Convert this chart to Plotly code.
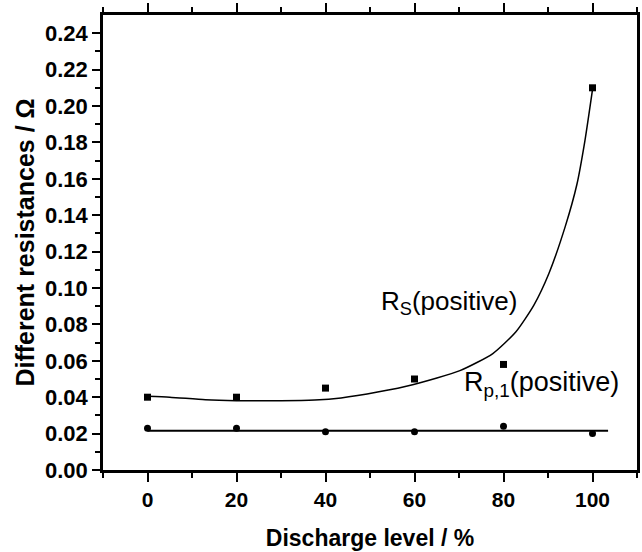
import plotly.graph_objects as go

# Measured data
discharge = [0, 20, 40, 60, 80, 100]
rs_pos = [0.040, 0.040, 0.045, 0.050, 0.058, 0.210]
rp1_pos = [0.023, 0.023, 0.021, 0.021, 0.024, 0.020]

# Fitted curve for Rs
rs_fit_x = [0, 5, 13, 20, 30, 37.6, 43.5, 51.7, 59.8, 70.2, 77.6, 82.8, 86.8, 90.2, 93.9, 96.5, 98.3, 100]
rs_fit_y = [0.0405, 0.0400, 0.0386, 0.0381, 0.0380, 0.0384, 0.0396, 0.0428, 0.0470, 0.0546, 0.0640,
            0.0760, 0.0905, 0.1080, 0.1340, 0.1570, 0.1810, 0.2090]

# Fitted line for Rp,1
rp1_fit_x = [0, 103.5]
rp1_fit_y = [0.0216, 0.0216]

x_ticks = [0, 20, 40, 60, 80, 100]
y_ticks = [0.00, 0.02, 0.04, 0.06, 0.08, 0.10, 0.12, 0.14, 0.16, 0.18, 0.20, 0.22, 0.24]

FONT = "Liberation Sans, Arial, sans-serif"

fig = go.Figure()
fig.add_trace(go.Scatter(x=rs_fit_x, y=rs_fit_y, mode="lines",
                         line=dict(color="black", width=1.5, shape="spline", smoothing=0.6),
                         showlegend=False, hoverinfo="skip"))
fig.add_trace(go.Scatter(x=rp1_fit_x, y=rp1_fit_y, mode="lines", line=dict(color="black", width=2),
                         showlegend=False, hoverinfo="skip"))
fig.add_trace(go.Scatter(x=discharge, y=rs_pos, mode="markers",
                         marker=dict(symbol="square", size=7, color="black"), showlegend=False))
fig.add_trace(go.Scatter(x=discharge, y=rp1_pos, mode="markers",
                         marker=dict(symbol="circle", size=7, color="black"), showlegend=False))

fig.add_annotation(x=52.1, y=0.0922, xref="x", yref="y", text="R<sub>S</sub>(positive)", showarrow=False,
                   xanchor="left", yanchor="middle", font=dict(family=FONT, size=26, color="black"))
fig.add_annotation(x=70.6, y=0.0475, xref="x", yref="y", text="R<sub>p,1</sub>(positive)", showarrow=False,
                   xanchor="left", yanchor="middle", font=dict(family=FONT, size=27, color="black"))

fig.update_xaxes(range=[-10, 110], tickvals=x_ticks, ticktext=["<b>%d</b>" % v for v in x_ticks],
                 ticks="outside", ticklen=9, tickwidth=2, tickcolor="black",
                 minor=dict(tickvals=[-10, 10, 30, 50, 70, 90, 110], ticks="outside", ticklen=5, tickwidth=2, tickcolor="black"),
                 showline=True, linewidth=2.5, linecolor="black", mirror="ticks", showgrid=False, zeroline=False,
                 tickfont=dict(family=FONT, size=21, color="black"),
                 title=dict(text="<b>Discharge level / %</b>", font=dict(family=FONT, size=23, color="black"), standoff=20))
fig.update_yaxes(range=[0, 0.25], tickvals=y_ticks, ticktext=["<b>%.2f</b>" % v for v in y_ticks],
                 ticks="outside", ticklen=8, tickwidth=2, tickcolor="black",
                 minor=dict(tickvals=[0.01 + 0.02 * i for i in range(12)], ticks="outside", ticklen=5, tickwidth=2, tickcolor="black"),
                 showline=True, linewidth=2.5, linecolor="black", mirror=True, showgrid=False, zeroline=False,
                 tickfont=dict(family=FONT, size=22, color="black"),
                 title=dict(text="<b>Different resistances / Ω</b>", font=dict(family=FONT, size=25, color="black"), standoff=4))

fig.update_layout(width=642, height=552, margin=dict(l=103, r=2, t=15, b=82),
                  plot_bgcolor="white", paper_bgcolor="white",
                  font=dict(family=FONT, color="black"))

fig.write_html("out.html")
